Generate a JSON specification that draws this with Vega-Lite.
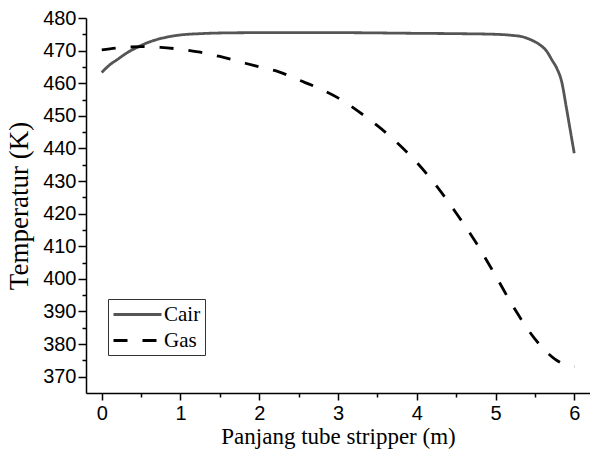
{
  "$schema": "https://vega.github.io/schema/vega-lite/v6.json",
  "width": 504,
  "height": 375,
  "autosize": {"type": "none"},
  "padding": {"left": 86, "top": 18, "right": 0, "bottom": 60},
  "background": "white",
  "config": {
    "view": {"stroke": null},
    "axis": {
      "domainColor": "#000000",
      "domainWidth": 1.5,
      "tickColor": "#000000",
      "tickWidth": 1.5,
      "grid": false,
      "labelFont": "Liberation Sans",
      "labelFontSize": 20,
      "labelColor": "#000000",
      "titleFont": "Liberation Serif",
      "titleFontWeight": "normal",
      "titleColor": "#000000"
    }
  },
  "data": {
    "values": [
      {"x": 0, "y": 463.3, "s": "Cair"},
      {"x": 0.1, "y": 465.6, "s": "Cair"},
      {"x": 0.2, "y": 467.3, "s": "Cair"},
      {"x": 0.3, "y": 469.0, "s": "Cair"},
      {"x": 0.45, "y": 471.0, "s": "Cair"},
      {"x": 0.6, "y": 472.6, "s": "Cair"},
      {"x": 0.8, "y": 474.0, "s": "Cair"},
      {"x": 1.0, "y": 474.8, "s": "Cair"},
      {"x": 1.25, "y": 475.2, "s": "Cair"},
      {"x": 1.5, "y": 475.4, "s": "Cair"},
      {"x": 2.0, "y": 475.5, "s": "Cair"},
      {"x": 3.0, "y": 475.5, "s": "Cair"},
      {"x": 4.0, "y": 475.3, "s": "Cair"},
      {"x": 4.5, "y": 475.2, "s": "Cair"},
      {"x": 5.0, "y": 475.0, "s": "Cair"},
      {"x": 5.2, "y": 474.7, "s": "Cair"},
      {"x": 5.35, "y": 474.2, "s": "Cair"},
      {"x": 5.45, "y": 473.3, "s": "Cair"},
      {"x": 5.55, "y": 472.0, "s": "Cair"},
      {"x": 5.65, "y": 469.8, "s": "Cair"},
      {"x": 5.72, "y": 467.0, "s": "Cair"},
      {"x": 5.78, "y": 464.5, "s": "Cair"},
      {"x": 5.84, "y": 460.5, "s": "Cair"},
      {"x": 5.9, "y": 452.5, "s": "Cair"},
      {"x": 5.95, "y": 445.5, "s": "Cair"},
      {"x": 6.0, "y": 438.5, "s": "Cair"},
      {"x": 0, "y": 470.2, "s": "Gas"},
      {"x": 0.25, "y": 470.9, "s": "Gas"},
      {"x": 0.5, "y": 471.2, "s": "Gas"},
      {"x": 0.75, "y": 471.0, "s": "Gas"},
      {"x": 1.0, "y": 470.4, "s": "Gas"},
      {"x": 1.25, "y": 469.5, "s": "Gas"},
      {"x": 1.5, "y": 468.2, "s": "Gas"},
      {"x": 1.75, "y": 466.6, "s": "Gas"},
      {"x": 2.0, "y": 465.0, "s": "Gas"},
      {"x": 2.25, "y": 463.5, "s": "Gas"},
      {"x": 2.5, "y": 461.0, "s": "Gas"},
      {"x": 2.75, "y": 458.5, "s": "Gas"},
      {"x": 3.0, "y": 455.5, "s": "Gas"},
      {"x": 3.25, "y": 451.5, "s": "Gas"},
      {"x": 3.5, "y": 447.0, "s": "Gas"},
      {"x": 3.75, "y": 441.8, "s": "Gas"},
      {"x": 4.0, "y": 435.7, "s": "Gas"},
      {"x": 4.25, "y": 428.5, "s": "Gas"},
      {"x": 4.5, "y": 420.2, "s": "Gas"},
      {"x": 4.75, "y": 411.2, "s": "Gas"},
      {"x": 5.0, "y": 401.0, "s": "Gas"},
      {"x": 5.25, "y": 390.5, "s": "Gas"},
      {"x": 5.5, "y": 381.6, "s": "Gas"},
      {"x": 5.75, "y": 375.5, "s": "Gas"},
      {"x": 5.9, "y": 373.5, "s": "Gas"},
      {"x": 6.0, "y": 373.0, "s": "Gas"}
    ]
  },
  "mark": {"type": "line", "interpolate": "monotone", "strokeWidth": 2.8},
  "encoding": {
    "x": {
      "field": "x",
      "type": "quantitative",
      "scale": {"domain": [-0.2, 6.2], "nice": false, "zero": false},
      "axis": {
        "title": "Panjang tube stripper (m)",
        "titleFontSize": 23,
        "titlePadding": 2,
        "values": [0, 0.5, 1, 1.5, 2, 2.5, 3, 3.5, 4, 4.5, 5, 5.5, 6],
        "labelExpr": "datum.value % 1 === 0 ? format(datum.value, 'd') : ''",
        "tickSize": {"condition": {"test": "datum.value % 1 === 0", "value": 7}, "value": 4},
        "labelPadding": 3,
        "labelFlush": false,
        "labelOverlap": false
      }
    },
    "y": {
      "field": "y",
      "type": "quantitative",
      "scale": {"domain": [365, 480], "nice": false, "zero": false},
      "axis": {
        "title": "Temperatur (K)",
        "titleFontSize": 27,
        "titlePadding": 9,
        "values": [370, 375, 380, 385, 390, 395, 400, 405, 410, 415, 420, 425, 430, 435, 440, 445, 450, 455, 460, 465, 470, 475, 480],
        "labelExpr": "datum.value % 10 === 0 ? datum.label : ''",
        "tickSize": {"condition": {"test": "datum.value % 10 === 0", "value": 8}, "value": 4},
        "labelPadding": 2,
        "labelFlush": false,
        "labelOverlap": false
      }
    },
    "color": {
      "field": "s",
      "type": "nominal",
      "scale": {"domain": ["Cair", "Gas"], "range": ["#555555", "#000000"]},
      "legend": {
        "title": null,
        "orient": "none",
        "legendX": 22,
        "legendY": 281,
        "symbolType": "M-1,0H3.8",
        "symbolSize": 400,
        "symbolStrokeWidth": 3,
        "labelFont": "Liberation Serif",
        "labelFontSize": 21,
        "labelColor": "#000000",
        "labelOffset": 29,
        "fillColor": "white",
        "strokeColor": "#333333",
        "padding": 4,
        "rowPadding": 4
      }
    },
    "strokeDash": {
      "field": "s",
      "type": "nominal",
      "scale": {"domain": ["Cair", "Gas"], "range": [[1, 0], [14, 15]]},
      "legend": {"title": null}
    }
  }
}
